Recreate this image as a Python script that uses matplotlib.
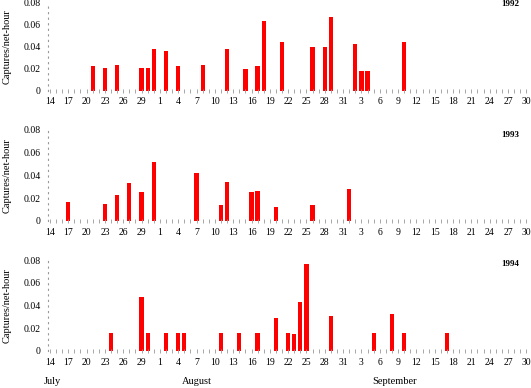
import pandas as pd
import matplotlib
matplotlib.use('Agg')
import matplotlib.pyplot as plt

plt.rcParams['font.family'] = ['Liberation Serif', 'DejaVu Serif']

# captures per net-hour by date (month-day)
dates_1992 = ['07-21', '07-23', '07-25', '07-29', '07-30', '07-31', '08-02', '08-04',
              '08-08', '08-12', '08-15', '08-17', '08-18', '08-21', '08-26', '08-28',
              '08-29', '09-02', '09-03', '09-04', '09-10']
vals_1992 = [0.022, 0.021, 0.023, 0.021, 0.021, 0.038, 0.036, 0.022,
             0.023, 0.038, 0.020, 0.022, 0.063, 0.044, 0.040, 0.040,
             0.067, 0.042, 0.018, 0.018, 0.044]

dates_1993 = ['07-17', '07-23', '07-25', '07-27', '07-29', '07-31', '08-07', '08-11',
              '08-12', '08-16', '08-17', '08-20', '08-26', '09-01']
vals_1993 = [0.017, 0.015, 0.023, 0.033, 0.0255, 0.0515, 0.042, 0.014,
             0.034, 0.0255, 0.026, 0.0125, 0.014, 0.0285]

dates_1994 = ['07-24', '07-29', '07-30', '08-02', '08-04', '08-05', '08-11', '08-14',
              '08-17', '08-20', '08-22', '08-23', '08-24', '08-25', '08-29', '09-05',
              '09-08', '09-10', '09-17']
vals_1994 = [0.016, 0.048, 0.016, 0.016, 0.016, 0.016, 0.016, 0.016,
             0.016, 0.029, 0.016, 0.0148, 0.043, 0.077, 0.031, 0.016,
             0.0325, 0.016, 0.016]

years = ['1992', '1993', '1994']
months = ['July', 'August', 'September']
y_ticks = [0, 0.02, 0.04, 0.06, 0.08]
y_labels = ['0', '0.02', '0.04', '0.06', '0.08']

start = pd.Timestamp('2000-07-14')
all_days = pd.date_range(start, '2000-09-30')


def day_index(s):
    return (pd.Timestamp('2000-' + s) - start).days


W, H = 531, 388
fig = plt.figure(figsize=(W / 100, H / 100), dpi=100)

# (top of 0.08, baseline) in pixels for each panel
panels = [(2.5, 90.7), (130, 221), (260.3, 351)]
year_y = [0.983, 0.945, 0.956]
series = [(dates_1992, vals_1992), (dates_1993, vals_1993), (dates_1994, vals_1994)]
left, right = 47.7, 530

axes = []
for i, ((top, bot), (dates, vals)) in enumerate(zip(panels, series)):
    ax = fig.add_axes([left / W, 1 - bot / H, (right - left) / W, (bot - top) / H])
    x = [day_index(d) for d in dates]
    ax.bar(x, vals, width=0.7, color='red', linewidth=0)
    ax.set_xlim(-0.37, 78.6)
    ax.set_ylim(0, 0.08)
    for s in ['top', 'right', 'bottom']:
        ax.spines[s].set_visible(False)
    ax.spines['left'].set_linestyle((0, (1, 4)))
    ax.spines['left'].set_color('#999999')
    ax.spines['left'].set_linewidth(0.8)
    ax.set_yticks(y_ticks)
    ax.set_yticklabels(y_labels)
    ax.tick_params(axis='y', length=0, pad=5, labelsize=7)
    ax.set_xticks(range(0, 79, 3))
    ax.set_xticklabels([str(all_days[k].day) for k in range(0, 79, 3)])
    ax.set_xticks(range(0, 79), minor=True)
    ax.tick_params(axis='x', which='both', direction='inout', length=2.5,
                   width=0.6, color='#999999', pad=3.5, labelsize=7)
    ax.set_ylabel('Captures/net-hour', fontsize=7.5)
    ax.yaxis.set_label_coords(-0.074, 0.5)
    ax.text(0.9585, year_y[i], years[i], transform=ax.transAxes,
            ha='center', va='center', fontsize=6.5, fontweight='bold')
    axes.append(ax)

ax3 = axes[2]
month_x = [0.33, 24, 56.5]
for m, mx in zip(months, month_x):
    ax3.text(mx, -0.338, m, transform=ax3.get_xaxis_transform(),
             ha='center', va='center', fontsize=7.5)

fig.savefig('out.png', dpi=100)
